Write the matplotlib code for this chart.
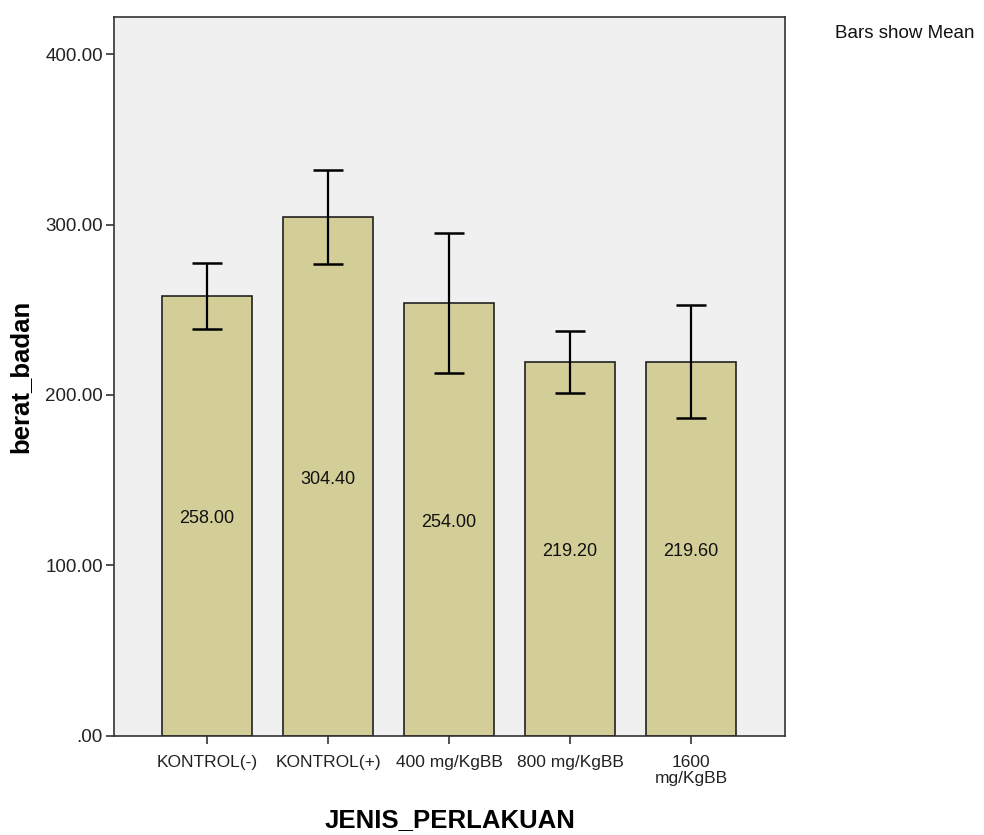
import numpy as np
import matplotlib
matplotlib.use("Agg")
import matplotlib.pyplot as plt

plt.rcParams['font.family'] = ['Liberation Sans', 'DejaVu Sans']

# data
groups = ['KONTROL(-)', 'KONTROL(+)', '400 mg/KgBB', '800 mg/KgBB', '1600\nmg/KgBB']
means = [258.00, 304.40, 254.00, 219.20, 219.60]
err = [19.4, 27.3, 41.3, 18.2, 32.9]
yticks = [0, 100, 200, 300, 400]
ytick_labels = ['.00', '100.00', '200.00', '300.00', '400.00']

fig = plt.figure(figsize=(9.84, 8.35), dpi=100)
ax = fig.add_axes([0.1159, 0.1186, 0.6821, 0.861])
ax.set_facecolor('#f0f0f0')

x = np.arange(len(groups))
ax.bar(x, means, width=0.745, color='#d3ce97', edgecolor='#222222', linewidth=1.2, zorder=2)
ax.errorbar(x, means, yerr=err, fmt='none', ecolor='black', elinewidth=1.6,
            capsize=11, capthick=1.8, zorder=3)

for xi, m in zip(x, means):
    ax.text(xi, m / 2 - 1.5, '%.2f' % m, ha='center', va='center', fontsize=13, color='#111111', zorder=4)

ax.set_xlim(-0.77, 4.78)
ax.set_ylim(0, 421.7)
ax.set_xticks(x)
ax.set_xticklabels(groups, fontsize=12.5, linespacing=1.05)
ax.set_yticks(yticks)
ax.set_yticklabels(ytick_labels, fontsize=13.5)
ax.tick_params(axis='both', direction='out', length=6, width=1.2, color='#333333', labelcolor='#222222')
ax.tick_params(axis='x', pad=8)
ax.tick_params(axis='y', pad=2)

for s in ax.spines.values():
    s.set_color('#333333')
    s.set_linewidth(1.2)

ax.set_xlabel('JENIS_PERLAKUAN', fontsize=18.5, fontweight='bold', labelpad=16)
ax.set_ylabel('berat_badan', fontsize=18.5, fontweight='bold', labelpad=9)

fig.text(0.849, 0.96, 'Bars show Mean', fontsize=13.5, color='#111111', ha='left', va='center')

fig.savefig('out.png', dpi=100)
